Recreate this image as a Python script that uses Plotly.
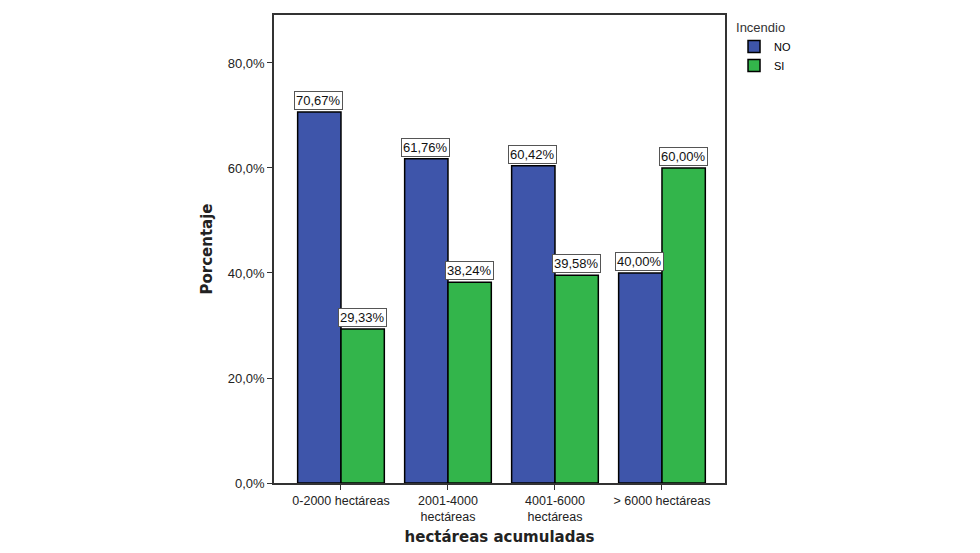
import plotly.graph_objects as go

categories = ["0-2000 hectáreas", "2001-4000<br>hectáreas", "4001-6000<br>hectáreas", "> 6000 hectáreas"]
no_values = [70.67, 61.76, 60.42, 40.00]
si_values = [29.33, 38.24, 39.58, 60.00]
tick_vals = [0, 20, 40, 60, 80]
tick_text = ["0,0%", "20,0%", "40,0%", "60,0%", "80,0%"]

def fmt(v):
    return f"{v:.2f}".replace(".", ",") + "%"

fig = go.Figure()
fig.add_trace(go.Bar(x=categories, y=no_values, name="NO",
                     marker=dict(color="#3e55aa", line=dict(color="black", width=1.5))))
fig.add_trace(go.Bar(x=categories, y=si_values, name="SI",
                     marker=dict(color="#33b54b", line=dict(color="black", width=1.5))))

for vals, shift in ((no_values, -22), (si_values, 22)):
    for c, v in zip(categories, vals):
        fig.add_annotation(x=c, y=v, text=fmt(v), xshift=shift, yshift=2,
                           yanchor="bottom", showarrow=False,
                           font=dict(family="Liberation Sans, Arial", size=13, color="#111111"),
                           bgcolor="white", bordercolor="#555555", borderwidth=1, borderpad=1)

fig.update_layout(
    width=980, height=553,
    margin=dict(l=274, r=255, t=15, b=70),
    paper_bgcolor="white", plot_bgcolor="white",
    barmode="group", bargap=0.19, bargroupgap=0,
    font=dict(family="Liberation Sans, Arial", size=13, color="#222222"),
    legend=dict(title=dict(text="Incendio", font=dict(size=13, color="#333333")),
                x=1.02, xanchor="left", y=1.0, yanchor="top", itemwidth=30,
                font=dict(size=11, color="black"), tracegroupgap=0),
    xaxis=dict(range=[-0.626, 3.589], showline=True, linecolor="#333333", linewidth=1.5,
               mirror=True, ticks="outside", ticklen=5, tickcolor="#333333", automargin=False,
               tickfont=dict(size=12.5, color="#222222"),
               title=dict(text="<b>hectáreas acumuladas</b>",
                          font=dict(family="DejaVu Sans", size=15, color="#222222"), standoff=8)),
    yaxis=dict(range=[0, 89.14], tickvals=tick_vals, ticktext=tick_text, automargin=False,
               showline=True, linecolor="#333333", linewidth=1.5, mirror=True,
               ticks="outside", ticklen=5, tickcolor="#333333", showgrid=False, zeroline=False,
               tickfont=dict(size=13, color="#222222"),
               title=dict(text="<b>Porcentaje</b>",
                          font=dict(family="DejaVu Sans", size=15, color="#222222"), standoff=12)),
)
fig.write_html("out.html")
